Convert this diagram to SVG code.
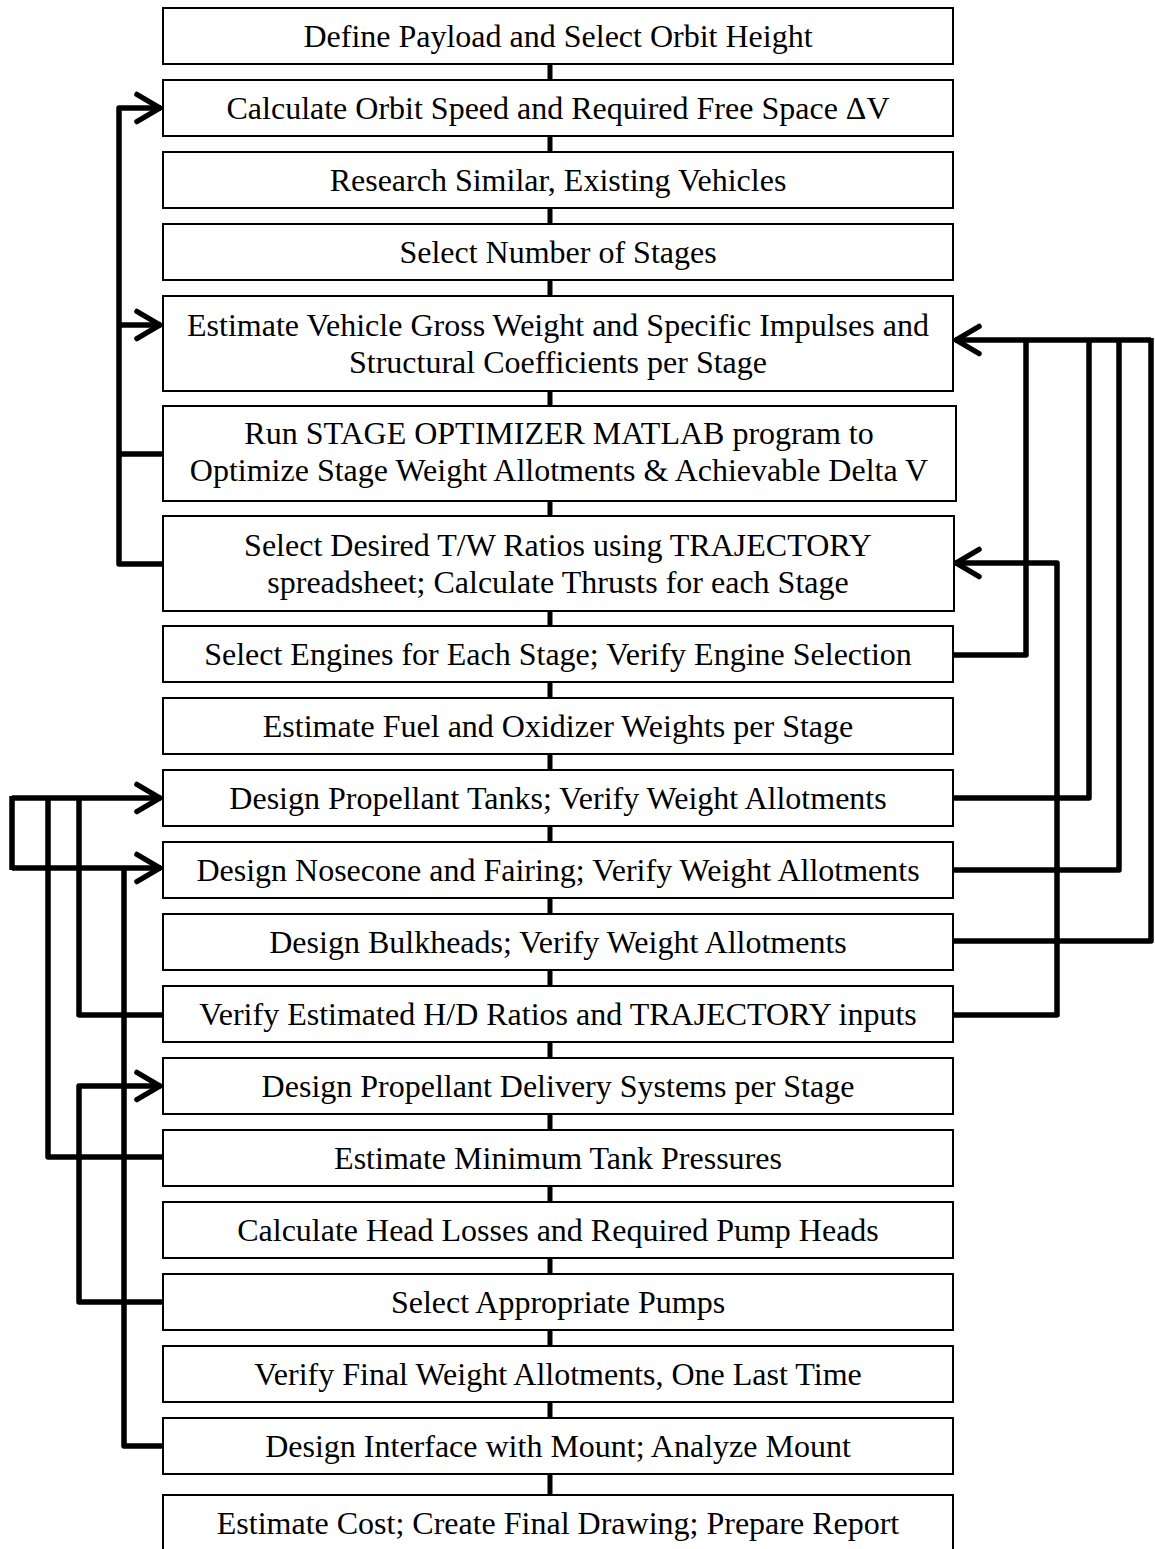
<svg xmlns="http://www.w3.org/2000/svg" width="1155" height="1549" viewBox="0 0 1155 1549">
  <style>
    .box { fill: #ffffff; stroke: #000000; stroke-width: 2; }
    .lbl { font-family: "Liberation Serif", "Times New Roman", serif; font-size: 32px; fill: #000000; text-anchor: middle; }
    .wire { fill: none; stroke: #000000; stroke-width: 5.5; stroke-linejoin: round; stroke-linecap: butt; }
    .link { fill: none; stroke: #000000; stroke-width: 5; }
  </style>
  <defs>
    <marker id="arrow" markerUnits="userSpaceOnUse" markerWidth="40" markerHeight="40" viewBox="-30 -20 40 40" refX="0" refY="0" orient="auto" overflow="visible">
      <path d="M -24,-13.5 L -1,0 L -24,13.5" fill="none" stroke="#000000" stroke-width="5.5" stroke-linecap="round" stroke-linejoin="round"/>
    </marker>
  </defs>
  <rect width="1155" height="1549" fill="#ffffff"/>

  <!-- connectors -->
  <g id="connectors">
    <!-- straight links between consecutive steps -->
    <path class="link" d="M550,64 V80 M550,136 V152 M550,208 V224 M550,280 V296 M550,391 V406 M550,501 V516 M550,611 V626 M550,682 V698 M550,754 V770 M550,826 V842 M550,898 V914 M550,970 V986 M550,1042 V1058 M550,1114 V1130 M550,1186 V1202 M550,1258 V1274 M550,1330 V1346 M550,1402 V1418 M550,1474 V1495"/>
    <!-- upper left feedback loops -->
    <path class="wire" d="M163,564 H119 V108 H161" marker-end="url(#arrow)"/>
    <path class="wire" d="M163,454 H119"/>
    <path class="wire" d="M119,325 H161" marker-end="url(#arrow)"/>
    <!-- right side feedback loops -->
    <path class="wire" d="M1151,340 H955" marker-end="url(#arrow)"/>
    <path class="wire" d="M953,655 H1026 V340"/>
    <path class="wire" d="M953,798 H1089 V340"/>
    <path class="wire" d="M953,870 H1119 V340"/>
    <path class="wire" d="M953,941 H1151 V338"/>
    <path class="wire" d="M953,1015 H1057 V563 H955" marker-end="url(#arrow)"/>
    <!-- lower left feedback loops -->
    <path class="wire" d="M12,798 H161" marker-end="url(#arrow)"/>
    <path class="wire" d="M12,868 H161" marker-end="url(#arrow)"/>
    <path class="wire" d="M12,796 V870"/>
    <path class="wire" d="M163,1015 H79 V798"/>
    <path class="wire" d="M163,1157 H48 V798"/>
    <path class="wire" d="M163,1446 H124 V868"/>
    <path class="wire" d="M163,1302 H79 V1086 H161" marker-end="url(#arrow)"/>
  </g>

  <!-- process steps -->
  <g id="step-01"><rect class="box" x="163" y="8" width="790" height="56"/><text class="lbl" x="558" y="47">Define Payload and Select Orbit Height</text></g>
  <g id="step-02"><rect class="box" x="163" y="80" width="790" height="56"/><text class="lbl" x="558" y="119">Calculate Orbit Speed and Required Free Space ΔV</text></g>
  <g id="step-03"><rect class="box" x="163" y="152" width="790" height="56"/><text class="lbl" x="558" y="191">Research Similar, Existing Vehicles</text></g>
  <g id="step-04"><rect class="box" x="163" y="224" width="790" height="56"/><text class="lbl" x="558" y="263">Select Number of Stages</text></g>
  <g id="step-05"><rect class="box" x="163" y="296" width="790" height="95"/><text class="lbl" x="558" y="336">Estimate Vehicle Gross Weight and Specific Impulses and</text><text class="lbl" x="558" y="373">Structural Coefficients per Stage</text></g>
  <g id="step-06"><rect class="box" x="163" y="406" width="793" height="95"/><text class="lbl" x="559" y="444">Run STAGE OPTIMIZER MATLAB program to</text><text class="lbl" x="559" y="481">Optimize Stage Weight Allotments &amp; Achievable Delta V</text></g>
  <g id="step-07"><rect class="box" x="163" y="516" width="791" height="95"/><text class="lbl" x="558" y="556">Select Desired T/W Ratios using TRAJECTORY</text><text class="lbl" x="558" y="593">spreadsheet; Calculate Thrusts for each Stage</text></g>
  <g id="step-08"><rect class="box" x="163" y="626" width="790" height="56"/><text class="lbl" x="558" y="665">Select Engines for Each Stage; Verify Engine Selection</text></g>
  <g id="step-09"><rect class="box" x="163" y="698" width="790" height="56"/><text class="lbl" x="558" y="737">Estimate Fuel and Oxidizer Weights per Stage</text></g>
  <g id="step-10"><rect class="box" x="163" y="770" width="790" height="56"/><text class="lbl" x="558" y="809">Design Propellant Tanks; Verify Weight Allotments</text></g>
  <g id="step-11"><rect class="box" x="163" y="842" width="790" height="56"/><text class="lbl" x="558" y="881">Design Nosecone and Fairing; Verify Weight Allotments</text></g>
  <g id="step-12"><rect class="box" x="163" y="914" width="790" height="56"/><text class="lbl" x="558" y="953">Design Bulkheads; Verify Weight Allotments</text></g>
  <g id="step-13"><rect class="box" x="163" y="986" width="790" height="56"/><text class="lbl" x="558" y="1025">Verify Estimated H/D Ratios and TRAJECTORY inputs</text></g>
  <g id="step-14"><rect class="box" x="163" y="1058" width="790" height="56"/><text class="lbl" x="558" y="1097">Design Propellant Delivery Systems per Stage</text></g>
  <g id="step-15"><rect class="box" x="163" y="1130" width="790" height="56"/><text class="lbl" x="558" y="1169">Estimate Minimum Tank Pressures</text></g>
  <g id="step-16"><rect class="box" x="163" y="1202" width="790" height="56"/><text class="lbl" x="558" y="1241">Calculate Head Losses and Required Pump Heads</text></g>
  <g id="step-17"><rect class="box" x="163" y="1274" width="790" height="56"/><text class="lbl" x="558" y="1313">Select Appropriate Pumps</text></g>
  <g id="step-18"><rect class="box" x="163" y="1346" width="790" height="56"/><text class="lbl" x="558" y="1385">Verify Final Weight Allotments, One Last Time</text></g>
  <g id="step-19"><rect class="box" x="163" y="1418" width="790" height="56"/><text class="lbl" x="558" y="1457">Design Interface with Mount; Analyze Mount</text></g>
  <g id="step-20"><rect class="box" x="163" y="1495" width="790" height="60"/><text class="lbl" x="558" y="1534">Estimate Cost; Create Final Drawing; Prepare Report</text></g>
</svg>
